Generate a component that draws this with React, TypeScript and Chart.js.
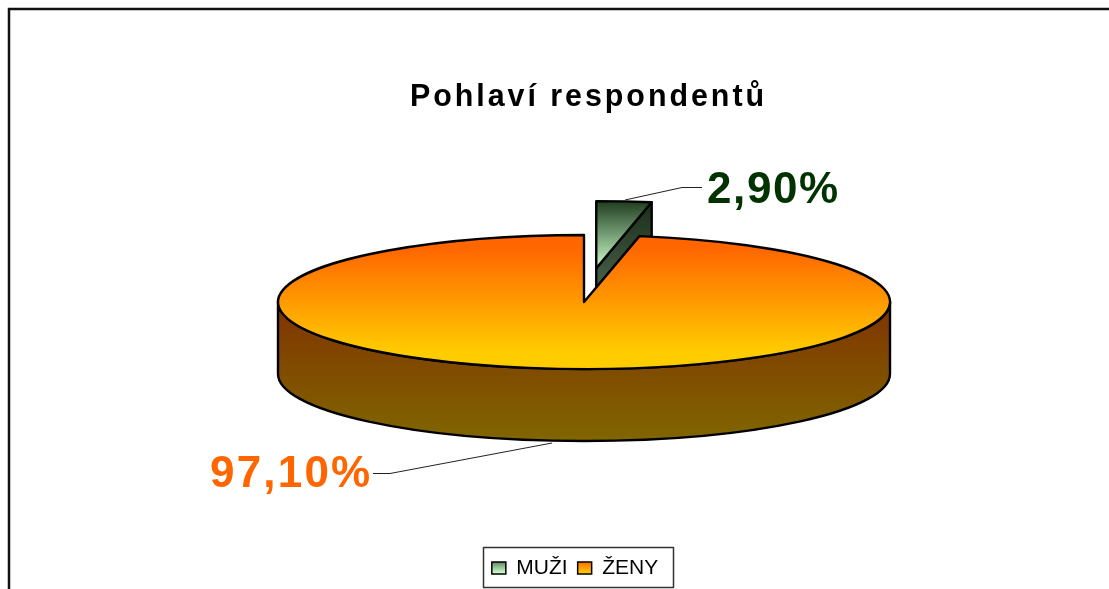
import React, { useEffect, useRef } from "react";
import { Chart, registerables } from "chart.js";

Chart.register(...registerables);

const categories = ["MUŽI", "ŽENY"];
const shares = [2.9, 97.1];
const shareLabels = ["2,90%", "97,10%"];
const explodeX = [0.04, 0];
const explodeY = [-0.505, 0];
const titleText = "Pohlaví respondentů";

const PIE = { cx: 584, cy: 302, rx: 306, ry: 67, depth: 72 };
const LEGEND_BOX = { left: 483.5, top: 547.5, right: 673.5, bottom: 587.5 };

const faceColors = [
  ["#1f3d1f", "#ccffcc"],
  ["#ff6600", "#ffcc00"],
];
const swatchColors = [
  ["#5a7d5a", "#ccffcc"],
  ["#ff6600", "#ffcc00"],
];

const baseCenter = { x: 0, y: 0 };

function transformPie(ctx: any, arc: any) {
  const R = arc.outerRadius;
  ctx.translate(PIE.cx, PIE.cy);
  ctx.scale(PIE.rx / R, PIE.ry / R);
  ctx.translate(-baseCenter.x, -baseCenter.y);
}

function toScreen(arc: any, x: number, y: number) {
  const R = arc.outerRadius;
  return {
    x: PIE.cx + ((x - baseCenter.x) * PIE.rx) / R,
    y: PIE.cy + ((y - baseCenter.y) * PIE.ry) / R,
  };
}

const piePlugin = {
  id: "pie3d",
  beforeDraw(chart: any) {
    const { ctx, width, height } = chart;
    ctx.save();
    ctx.fillStyle = "#ffffff";
    ctx.fillRect(0, 0, width, height);
    ctx.strokeStyle = "#111111";
    ctx.lineWidth = 2.5;
    ctx.strokeRect(9, 9, width + 40, height + 40);
    ctx.restore();
  },
  afterLayout(chart: any) {
    const t = chart.titleBlock;
    t.left = 410;
    t.right = 767;
    t.top = 79;
    t.bottom = 79 + (t.bottom - t.top);
    if (!t.__spaced) {
      t.__spaced = true;
      const drawTitle = t.draw;
      t.draw = function () {
        (chart.ctx as any).letterSpacing = "3px";
        drawTitle.call(t);
        (chart.ctx as any).letterSpacing = "0px";
      };
    }
    const l = chart.legend;
    l.left = LEGEND_BOX.left - 3.5;
    l.right = LEGEND_BOX.right - 3.5;
    l.top = LEGEND_BOX.top;
    l.bottom = LEGEND_BOX.bottom;
  },
  afterDatasetsUpdate(chart: any) {
    const arcs = chart.getDatasetMeta(0).data;
    baseCenter.x = arcs[1].x;
    baseCenter.y = arcs[1].y;
    arcs.forEach((arc: any, i: number) => {
      arc.x = baseCenter.x + explodeX[i] * arc.outerRadius;
      arc.y = baseCenter.y + explodeY[i] * arc.outerRadius;
    });
  },
  beforeDatasetsDraw(chart: any) {
    const { ctx } = chart;
    const arcs = chart.getDatasetMeta(0).data;
    const a0 = arcs[0];
    const apex = toScreen(a0, a0.x, a0.y);
    const rim = toScreen(
      a0,
      a0.x + Math.cos(a0.endAngle) * a0.outerRadius,
      a0.y + Math.sin(a0.endAngle) * a0.outerRadius,
    );
    ctx.save();
    const g0 = ctx.createLinearGradient(0, rim.y, 0, apex.y + PIE.depth);
    g0.addColorStop(0, "#1a2e1a");
    g0.addColorStop(1, "#667f66");
    ctx.fillStyle = g0;
    ctx.strokeStyle = "#000";
    ctx.lineWidth = 2.4;
    ctx.lineJoin = "round";
    ctx.beginPath();
    ctx.moveTo(apex.x, apex.y);
    ctx.lineTo(rim.x, rim.y);
    ctx.lineTo(rim.x, rim.y + PIE.depth);
    ctx.lineTo(apex.x, apex.y + PIE.depth);
    ctx.closePath();
    ctx.fill();
    ctx.stroke();
    const g1 = ctx.createLinearGradient(0, PIE.cy, 0, PIE.cy + PIE.ry + PIE.depth);
    g1.addColorStop(0, "#803300");
    g1.addColorStop(1, "#806600");
    ctx.fillStyle = g1;
    ctx.beginPath();
    ctx.ellipse(PIE.cx, PIE.cy, PIE.rx, PIE.ry, 0, 0, Math.PI);
    ctx.ellipse(PIE.cx, PIE.cy + PIE.depth, PIE.rx, PIE.ry, 0, Math.PI, 0, true);
    ctx.closePath();
    ctx.fill();
    ctx.stroke();
    ctx.restore();
    // the library's arcs are drawn squashed into an ellipse
    ctx.save();
    transformPie(ctx, arcs[1]);
  },
  afterDatasetsDraw(chart: any) {
    const { ctx } = chart;
    ctx.restore();
    const arcs = chart.getDatasetMeta(0).data;
    ctx.save();
    ctx.strokeStyle = "#000";
    ctx.lineWidth = 2.4;
    ctx.lineJoin = "round";
    arcs.forEach((arc: any) => {
      const c = toScreen(arc, arc.x, arc.y);
      ctx.beginPath();
      ctx.moveTo(c.x, c.y);
      ctx.ellipse(c.x, c.y, PIE.rx, PIE.ry, 0, arc.startAngle, arc.endAngle);
      ctx.closePath();
      ctx.stroke();
    });
    // leader lines
    ctx.lineWidth = 1;
    ctx.strokeStyle = "#222";
    ctx.beginPath();
    ctx.moveTo(625, 200);
    ctx.lineTo(682, 187.5);
    ctx.lineTo(702, 187.5);
    ctx.moveTo(373, 473.5);
    ctx.lineTo(390, 473.5);
    ctx.lineTo(552, 443);
    ctx.stroke();
    // value labels
    ctx.font = 'bold 44px "Liberation Sans"';
    ctx.textBaseline = "alphabetic";
    ctx.textAlign = "left";
    (ctx as any).letterSpacing = "1.6px";
    ctx.fillStyle = "#003300";
    ctx.fillText(shareLabels[0], 707, 203);
    (ctx as any).letterSpacing = "2.2px";
    ctx.fillStyle = "#ff6600";
    ctx.fillText(shareLabels[1], 210, 487);
    (ctx as any).letterSpacing = "0px";
    // legend frame
    ctx.lineWidth = 1.5;
    ctx.strokeStyle = "#333";
    ctx.strokeRect(
      LEGEND_BOX.left,
      LEGEND_BOX.top,
      LEGEND_BOX.right - LEGEND_BOX.left,
      LEGEND_BOX.bottom - LEGEND_BOX.top,
    );
    ctx.restore();
  },
};

export default function App() {
  const ref = useRef<HTMLCanvasElement>(null);
  useEffect(() => {
    const canvas = ref.current!;
    const ctx0 = canvas.getContext("2d")!;
    const swatch = (i: number) => {
      const g = ctx0.createLinearGradient(0, 561, 0, 573);
      g.addColorStop(0, swatchColors[i][0]);
      g.addColorStop(1, swatchColors[i][1]);
      return g;
    };
    const chart = new Chart(canvas, {
      type: "pie",
      data: {
        labels: categories,
        datasets: [
          {
            data: shares,
            borderWidth: 0,
            backgroundColor: (c: any) => {
              const area = c.chart.chartArea;
              if (!area) return faceColors[c.dataIndex][1];
              const R = Math.min(area.right - area.left, area.bottom - area.top) / 2;
              const cy = (area.top + area.bottom) / 2;
              const g =
                c.dataIndex === 0
                  ? c.chart.ctx.createLinearGradient(0, cy + explodeY[0] * R - R, 0, cy + explodeY[0] * R)
                  : c.chart.ctx.createLinearGradient(0, cy - 0.8 * R, 0, cy + 0.75 * R);
              g.addColorStop(0, faceColors[c.dataIndex][0]);
              g.addColorStop(1, faceColors[c.dataIndex][1]);
              return g;
            },
          },
        ],
      },
      options: {
        responsive: false,
        animation: false,
        events: [],
        layout: { padding: 0 },
        plugins: {
          tooltip: { enabled: false },
          title: {
            display: true,
            text: titleText,
            color: "#000",
            font: { family: '"Liberation Sans"', size: 31, weight: "bold" },
            padding: { top: 0, bottom: 0 },
          },
          legend: {
            display: true,
            position: "bottom",
            labels: {
              boxWidth: 14,
              boxHeight: 12,
              padding: 10,
              color: "#000",
              font: { family: '"Liberation Sans"', size: 21 },
              generateLabels: () =>
                categories.map((text, i) => ({
                  text,
                  fillStyle: swatch(i),
                  strokeStyle: "#000",
                  lineWidth: 1.5,
                  hidden: false,
                  index: i,
                })),
            },
          },
        },
      },
      plugins: [piePlugin as any],
    } as any);
    return () => chart.destroy();
  }, []);
  return (
    <canvas
      ref={ref}
      width={1109}
      height={589}
      style={{ position: "fixed", left: 0, top: 0, width: 1109, height: 589, display: "block" }}
    />
  );
}
